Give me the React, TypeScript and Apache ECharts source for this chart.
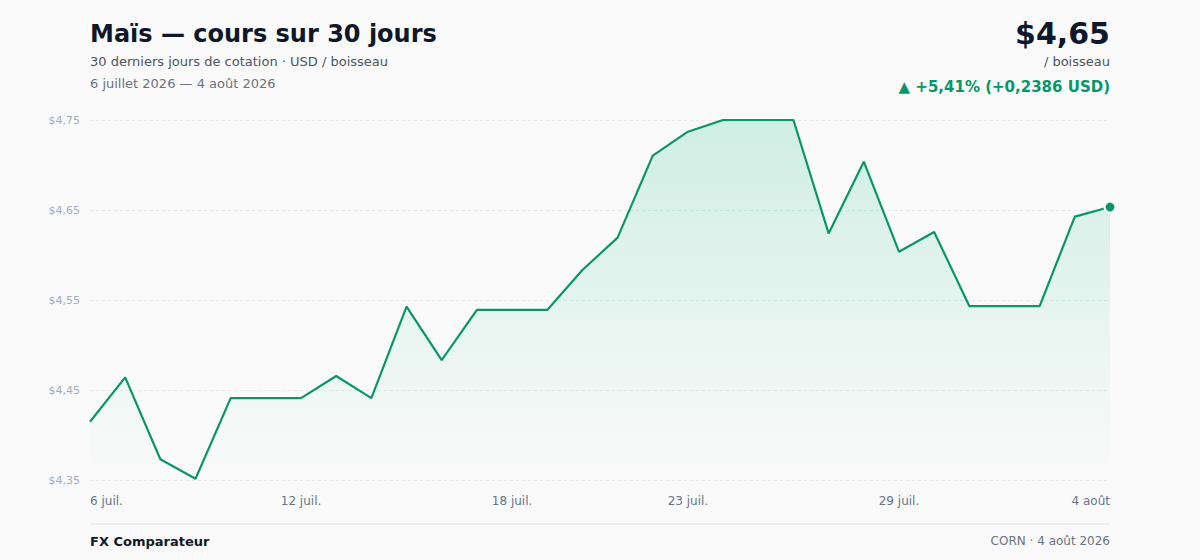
import React, { useEffect, useRef } from "react";
import * as echarts from "echarts";

const dates: string[] = [
  "6 juil.", "7 juil.", "8 juil.", "9 juil.", "10 juil.", "11 juil.", "12 juil.", "13 juil.",
  "14 juil.", "15 juil.", "16 juil.", "17 juil.", "18 juil.", "19 juil.", "20 juil.", "21 juil.",
  "22 juil.", "23 juil.", "24 juil.", "25 juil.", "26 juil.", "27 juil.", "28 juil.", "29 juil.",
  "30 juil.", "31 juil.", "1 août", "2 août", "3 août", "4 août",
];

const prices: number[] = [
  4.4147, 4.464, 4.373, 4.3514, 4.441, 4.441, 4.441, 4.4656, 4.441, 4.5426,
  4.4833, 4.539, 4.539, 4.539, 4.5833, 4.6193, 4.7104, 4.737, 4.75, 4.75,
  4.75, 4.624, 4.7037, 4.6037, 4.6256, 4.5433, 4.5433, 4.5433, 4.6426, 4.6533,
];

const labelIndices: number[] = [0, 6, 12, 17, 23, 29];

const yMin = 4.35;
const yMax = 4.75;
const yStep = 0.1;

const FONT = "'DejaVu Sans', 'Noto Sans', sans-serif";
const GREEN = "#0a9668";

export default function App() {
  const ref = useRef<HTMLDivElement>(null);

  useEffect(() => {
    if (!ref.current) return;
    const chart = echarts.init(ref.current, null, { renderer: "svg" });
    const labelSet = new Set(labelIndices);
    const last = prices.length - 1;
    chart.setOption({
      animation: false,
      backgroundColor: "#fafafa",
      textStyle: { fontFamily: FONT },
      grid: { left: 90, right: 90, top: 120, bottom: 80, containLabel: false },
      xAxis: {
        type: "category",
        data: dates,
        boundaryGap: false,
        axisLine: { show: false },
        axisTick: { show: false },
        splitLine: { show: false },
        axisLabel: {
          interval: (i: number) => labelSet.has(i),
          color: "#64748b",
          fontSize: 12,
          fontFamily: FONT,
          margin: 15,
          alignMinLabel: "left",
          alignMaxLabel: "right",
        },
      },
      yAxis: {
        type: "value",
        min: yMin,
        max: yMax,
        interval: yStep,
        axisLine: { show: false },
        axisTick: { show: false },
        splitLine: { lineStyle: { color: "#e6e8ec", type: [3, 3], width: 1 } },
        axisLabel: {
          color: "#a3adbb",
          fontSize: 11,
          fontFamily: FONT,
          margin: 10,
          formatter: (v: number) => "$" + v.toFixed(2).replace(".", ","),
        },
      },
      series: [
        {
          type: "line",
          data: prices.map((p, i) =>
            i === last
              ? {
                  value: p,
                  symbol: "circle",
                  symbolSize: 11,
                  itemStyle: { color: GREEN, borderColor: "#ffffff", borderWidth: 2 },
                }
              : p
          ),
          showSymbol: true,
          symbol: "none",
          lineStyle: { color: GREEN, width: 2.2 },
          itemStyle: { color: GREEN },
          areaStyle: {
            origin: "start",
            color: new echarts.graphic.LinearGradient(0, 0, 0, 1, [
              { offset: 0, color: "rgba(16,185,129,0.26)" },
              { offset: 1, color: "rgba(16,185,129,0)" },
            ]),
          },
        },
      ],
      graphic: [
        {
          type: "text",
          x: 90,
          y: 34,
          style: {
            text: "Maïs — cours sur 30 jours",
            fill: "#0f172a",
            font: `bold 24px ${FONT}`,
            textAlign: "left",
            textVerticalAlign: "middle",
          },
        },
        {
          type: "text",
          x: 90,
          y: 61,
          style: {
            text: "30 derniers jours de cotation · USD / boisseau",
            fill: "#4b5563",
            font: `13px ${FONT}`,
            textAlign: "left",
            textVerticalAlign: "middle",
          },
        },
        {
          type: "text",
          x: 90,
          y: 83,
          style: {
            text: "6 juillet 2026 — 4 août 2026",
            fill: "#6b7280",
            font: `13px ${FONT}`,
            textAlign: "left",
            textVerticalAlign: "middle",
          },
        },
        {
          type: "text",
          x: 1110,
          y: 33,
          style: {
            text: "$4,65",
            fill: "#0f172a",
            font: `bold 30px ${FONT}`,
            textAlign: "right",
            textVerticalAlign: "middle",
          },
        },
        {
          type: "text",
          x: 1110,
          y: 61,
          style: {
            text: "/ boisseau",
            fill: "#4b5563",
            font: `13px ${FONT}`,
            textAlign: "right",
            textVerticalAlign: "middle",
          },
        },
        {
          type: "text",
          x: 1110,
          y: 87,
          style: {
            text: "▲ +5,41% (+0,2386 USD)",
            fill: "#059669",
            font: `bold 15px ${FONT}`,
            textAlign: "right",
            textVerticalAlign: "middle",
          },
        },
        {
          type: "line",
          shape: { x1: 90, y1: 524, x2: 1110, y2: 524 },
          style: { stroke: "#e8e9ec", lineWidth: 1.5 },
        },
        {
          type: "text",
          x: 90,
          y: 541,
          style: {
            text: "FX Comparateur",
            fill: "#111827",
            font: `bold 13px ${FONT}`,
            textAlign: "left",
            textVerticalAlign: "middle",
          },
        },
        {
          type: "text",
          x: 1110,
          y: 541,
          style: {
            text: "CORN · 4 août 2026",
            fill: "#6b7280",
            font: `12px ${FONT}`,
            textAlign: "right",
            textVerticalAlign: "middle",
          },
        },
      ],
    });
    return () => chart.dispose();
  }, []);

  return (
    <div
      ref={ref}
      style={{ position: "fixed", left: 0, top: 0, width: 1200, height: 560 }}
    />
  );
}
